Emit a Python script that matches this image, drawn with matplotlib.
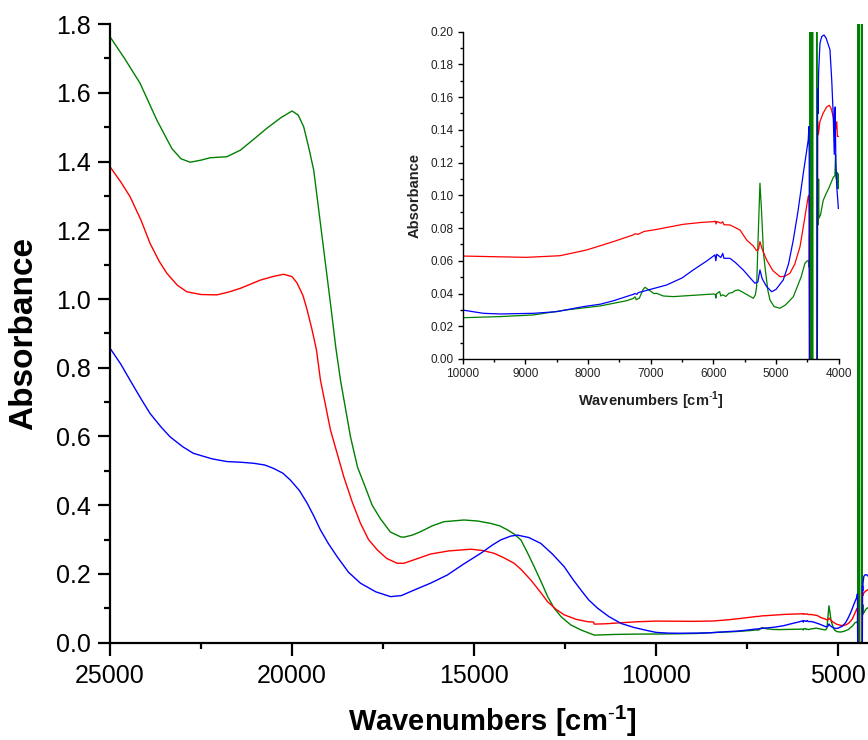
import numpy as np
import matplotlib
matplotlib.use("Agg")
import matplotlib.pyplot as plt
from matplotlib.ticker import MultipleLocator, FormatStrFormatter

plt.rcParams['font.family'] = ['Liberation Sans', 'DejaVu Sans']
plt.rcParams['mathtext.fontset'] = 'custom'
plt.rcParams['mathtext.rm'] = 'Liberation Sans'
plt.rcParams['mathtext.bf'] = 'Liberation Sans:bold'

# spectra: wavenumber (cm-1) and absorbance
wn_green = [25000, 24600, 24175, 23715, 23302, 23050, 22800, 22500, 22250, 21790,
            21420, 21050, 20690, 20300, 20000, 19830, 19680, 19540, 19405, 19175,
            18945, 18800, 18670, 18395, 18200, 18030, 17800, 17570, 17300, 17020,
            16930, 16700, 16470, 16150, 15830, 15280, 14900, 14540, 14300, 14080,
            13900, 13715, 13550, 13350, 13150, 12980, 12800, 12615, 12350, 12065,
            11850, 11700, 11150, 10500, 10000, 9404, 8872, 8340, 7808, 7383,
            7277, 7250, 7230, 7180, 7120, 7090, 7040, 6950, 6904, 6800,
            6638, 6400, 6200, 5999, 5970, 5960, 5950, 5900, 5880, 5850,
            5800, 5750, 5700, 5650, 5600, 5550, 5450, 5362, 5330, 5309,
            5280, 5256, 5230, 5200, 5176, 5130, 5096, 5030, 4937, 4850,
            4724, 4600, 4538, 4500, 4485, 4470, 4465, 4460, 4457, 4450,
            4440, 4430, 4418, 4410, 4352, 4350, 4345, 4335, 4326, 4320,
            4315, 4290, 4246, 4200, 4150, 4086, 4060, 4050, 4040, 4020,
            4010, 4005]
abs_green = [1.763, 1.700, 1.628, 1.521, 1.438, 1.408, 1.398, 1.404, 1.411, 1.414,
             1.433, 1.465, 1.497, 1.528, 1.547, 1.535, 1.501, 1.440, 1.375, 1.181,
             0.987, 0.860, 0.764, 0.599, 0.510, 0.464, 0.400, 0.360, 0.322, 0.308,
             0.307, 0.313, 0.323, 0.340, 0.352, 0.357, 0.354, 0.347, 0.340, 0.328,
             0.316, 0.299, 0.265, 0.221, 0.175, 0.134, 0.100, 0.076, 0.052, 0.037,
             0.028, 0.022, 0.024, 0.025, 0.0252, 0.0259, 0.0269, 0.0300, 0.0324, 0.0356,
             0.0370, 0.0380, 0.0362, 0.0372, 0.0425, 0.0438, 0.0425, 0.0400, 0.0401, 0.0385,
             0.0381, 0.0387, 0.0392, 0.0397, 0.0395, 0.0372, 0.0398, 0.0412, 0.0385, 0.0392,
             0.0382, 0.0402, 0.0405, 0.0418, 0.0422, 0.0412, 0.0390, 0.0371, 0.0390, 0.0442,
             0.0800, 0.1074, 0.0900, 0.0650, 0.0564, 0.0420, 0.0360, 0.0320, 0.0310, 0.0330,
             0.0380, 0.0500, 0.0585, 0.0600, 0.0600, 0.0560, 0.0760, -0.1, 2.0, -0.1,
             2.0, -0.1, 2.0, -0.1, -0.1, 2.0, 0.085, 0.090, 0.082, 0.110,
             0.086, 0.088, 0.097, 0.101, 0.105, 0.111, 0.112, 0.125, 0.110, 0.114,
             0.104, 0.113]

wn_red = [25000, 24700, 24450, 24150, 23900, 23650, 23440, 23150, 22890, 22500,
          22065, 21750, 21420, 20870, 20500, 20230, 20000, 19860, 19700, 19585,
          19450, 19330, 19220, 18945, 18580, 18350, 18120, 17900, 17660, 17400,
          17110, 16930, 16600, 16195, 15700, 15090, 14750, 14450, 14200, 13900,
          13700, 13440, 13200, 12980, 12750, 12525, 12200, 11880, 11720, 11700,
          11400, 10965, 10500, 10000, 9500, 8979, 8447, 8021, 7596, 7277,
          7250, 7200, 7100, 6957, 6479, 6200, 6000, 5970, 5955, 5945,
          5880, 5850, 5830, 5734, 5682, 5574, 5468, 5362, 5309, 5280,
          5256, 5220, 5149, 5050, 4937, 4860, 4777, 4700, 4617, 4550,
          4500, 4485, 4475, 4470, 4466, 4340, 4336, 4330, 4320, 4300,
          4250, 4192, 4150, 4120, 4100, 4086, 4070, 4060, 4050, 4030,
          4020, 4006]
abs_red = [1.385, 1.340, 1.298, 1.230, 1.162, 1.110, 1.075, 1.040, 1.021, 1.013,
           1.012, 1.020, 1.031, 1.055, 1.066, 1.072, 1.065, 1.046, 1.010, 0.968,
           0.910, 0.852, 0.764, 0.619, 0.483, 0.410, 0.347, 0.300, 0.270, 0.245,
           0.231, 0.231, 0.243, 0.258, 0.267, 0.272, 0.268, 0.260, 0.248, 0.231,
           0.212, 0.182, 0.150, 0.119, 0.097, 0.081, 0.068, 0.061, 0.060, 0.054,
           0.055, 0.058, 0.061, 0.0629, 0.0625, 0.0621, 0.0631, 0.0666, 0.0717, 0.0758,
           0.0765, 0.0762, 0.0780, 0.0788, 0.0823, 0.0834, 0.0839, 0.0842, 0.0825, 0.0840,
           0.0830, 0.0838, 0.0820, 0.0819, 0.0809, 0.0788, 0.0727, 0.0690, 0.0662, 0.0670,
           0.0717, 0.0670, 0.0605, 0.0540, 0.0503, 0.0505, 0.0524, 0.0580, 0.0686, 0.0840,
           0.0960, 0.0995, 0.1000, 0.0900, -0.01, -0.01, 0.145, 0.137, 0.138, 0.145,
           0.150, 0.154, 0.155, 0.153, 0.150, 0.148, 0.142, 0.147, 0.140, 0.145,
           0.136, 0.136]

wn_blue = [25000, 24700, 24450, 24150, 23900, 23600, 23350, 23000, 22710, 22200,
           21790, 21400, 21055, 20750, 20505, 20250, 20045, 19800, 19585, 19400,
           19220, 19000, 18760, 18450, 18120, 17700, 17295, 17000, 16650, 16200,
           15735, 15300, 14820, 14500, 14270, 14000, 13810, 13500, 13170, 12850,
           12525, 12300, 12065, 11850, 11605, 11300, 10965, 10600, 10230, 10000,
           9670, 9404, 8872, 8500, 8074, 7800, 7600, 7277, 7250, 7220,
           7200, 6745, 6500, 6320, 6100, 5974, 5960, 5945, 5880, 5850,
           5830, 5735, 5650, 5523, 5400, 5336, 5290, 5256, 5220, 5149,
           5069, 5000, 4884, 4800, 4724, 4650, 4564, 4500, 4485, 4475,
           4470, 4466, 4340, 4336, 4330, 4320, 4298, 4270, 4234, 4200,
           4139, 4110, 4086, 4070, 4060, 4055, 4045, 4030, 4010, 4005]
abs_blue = [0.857, 0.810, 0.764, 0.710, 0.667, 0.628, 0.599, 0.570, 0.551, 0.535,
            0.527, 0.525, 0.522, 0.517, 0.507, 0.493, 0.473, 0.443, 0.406, 0.368,
            0.328, 0.288, 0.250, 0.205, 0.173, 0.148, 0.134, 0.137, 0.153, 0.173,
            0.197, 0.228, 0.260, 0.284, 0.299, 0.310, 0.313, 0.306, 0.289, 0.258,
            0.221, 0.186, 0.153, 0.124, 0.100, 0.076, 0.056, 0.044, 0.035, 0.0299,
            0.0279, 0.0275, 0.0279, 0.0289, 0.0320, 0.0335, 0.0355, 0.0395, 0.0400, 0.0395,
            0.0405, 0.0452, 0.0495, 0.0544, 0.0600, 0.0636, 0.0600, 0.0640, 0.0620, 0.0645,
            0.0615, 0.0615, 0.0590, 0.0544, 0.0490, 0.0463, 0.0470, 0.0544, 0.0490, 0.0442,
            0.0411, 0.0425, 0.0483, 0.0580, 0.0727, 0.0900, 0.1135, 0.1300, 0.1340, 0.1420,
            0.1250, -0.01, -0.01, 0.165, 0.150, 0.175, 0.193, 0.197, 0.198, 0.196,
            0.189, 0.170, 0.148, 0.125, 0.152, 0.154, 0.120, 0.105, 0.095, 0.092]

series = [(wn_green, abs_green, '#008000'),
          (wn_red, abs_red, '#ff0000'),
          (wn_blue, abs_blue, '#0000ff')]

xlabel = r'Wavenumbers [cm$^{\mathbf{\text{-}1}}$]'

fig = plt.figure(figsize=(8.68, 7.40), dpi=100)

# main panel, running out past the right edge of the figure
ax = fig.add_axes([0.1267, 0.1315, 0.881, 0.836])
for x, y, c in series:
    ax.plot(x, y, color=c, lw=1.0)
ax.set_xlim(25000, 4000)
ax.set_ylim(0, 1.8)
ax.spines['top'].set_visible(False)
ax.spines['right'].set_visible(False)
for s in ('left', 'bottom'):
    ax.spines[s].set_linewidth(1.6)
ax.xaxis.set_major_locator(MultipleLocator(5000))
ax.xaxis.set_minor_locator(MultipleLocator(2500))
ax.yaxis.set_major_locator(MultipleLocator(0.2))
ax.yaxis.set_minor_locator(MultipleLocator(0.1))
ax.yaxis.set_major_formatter(FormatStrFormatter('%.1f'))
ax.tick_params(which='major', direction='out', length=9, width=1.6, labelsize=18)
ax.tick_params(which='minor', direction='out', length=4.5, width=1.6)
ax.tick_params(axis='x', which='major', pad=6)
ax.tick_params(axis='y', which='major', pad=5)
ax.set_xlabel(xlabel, fontsize=21, fontweight='bold')
ax.set_ylabel('Absorbance', fontsize=24, fontweight='bold')
ax.yaxis.set_label_coords(-0.092, 0.5)
ax.xaxis.set_label_coords(0.5, -0.098)

# inset: near-infrared region
ins = fig.add_axes([0.533, 0.5149, 0.4332, 0.4423])
for x, y, c in series:
    ins.plot(x, y, color=c, lw=0.9)
ins.set_xlim(10000, 4000)
ins.set_ylim(0, 0.2)
ins.spines['top'].set_visible(False)
ins.spines['right'].set_visible(False)
for s in ('left', 'bottom'):
    ins.spines[s].set_linewidth(1.0)
ins.xaxis.set_major_locator(MultipleLocator(1000))
ins.xaxis.set_minor_locator(MultipleLocator(500))
ins.yaxis.set_major_locator(MultipleLocator(0.02))
ins.yaxis.set_minor_locator(MultipleLocator(0.01))
ins.yaxis.set_major_formatter(FormatStrFormatter('%.2f'))
ins.tick_params(which='major', direction='out', length=3.6, width=1.0,
                labelsize=8.5, pad=3, labelcolor='#222222')
ins.tick_params(which='minor', direction='out', length=2, width=1.0)
ins.set_xlabel(xlabel, fontsize=10.5, fontweight='bold', color='#222222', labelpad=7)
ins.set_ylabel('Absorbance', fontsize=10.5, fontweight='bold', color='#222222', labelpad=6)

fig.savefig('out.png', dpi=100)
